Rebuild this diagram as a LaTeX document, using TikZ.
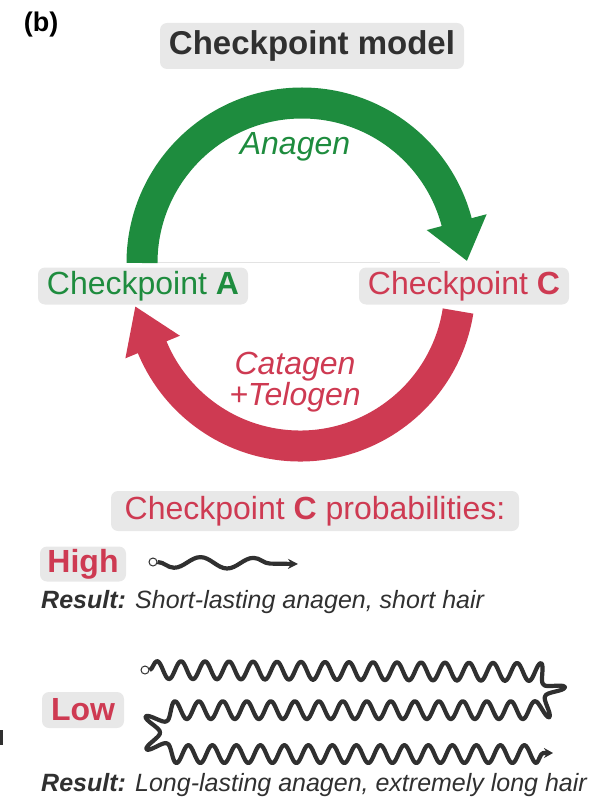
\documentclass[tikz,border=0pt]{standalone}
\usepackage{fontspec}
\setmainfont{Liberation Sans}
\usepackage{tikz}
\usetikzlibrary{calc, arrows.meta, decorations.pathmorphing}
\definecolor{cpgreen}{RGB}{30,140,62}
\definecolor{cpred}{RGB}{206,58,82}
\definecolor{cpgray}{RGB}{232,232,232}
\definecolor{cpdark}{RGB}{48,48,48}
\tikzstyle{tagbox} = [rectangle, rounded corners=7pt, fill=cpgray, inner sep=0pt, text centered]
\tikzstyle{phase} = [inner sep=0pt, font=\itshape\fontsize{32}{29}\selectfont]
\tikzstyle{band} = [line width=31pt]
\tikzstyle{hair} = [line width=4.2pt, draw=cpdark, line join=round, decorate]
\tikzstyle{root} = [circle, draw=cpdark, line width=1pt, fill=white, inner sep=0pt, minimum size=8pt]
\tikzstyle{result} = [anchor=west, inner sep=0pt, text=cpdark, font=\itshape\fontsize{25}{28}\selectfont]
\tikzstyle{every node}=[font=\fontsize{32}{34}\selectfont]

\begin{document}
\begin{tikzpicture}[x=1pt, y=1pt]
		\useasboundingbox (0,0) rectangle (598,-799);
		%标题与检查点
		\node (panel) [inner sep=0pt, font=\bfseries\fontsize{27}{30}\selectfont] at (41,-25) {(b)};
		\node (title) [tagbox, minimum width=304pt, minimum height=46pt, text=cpdark, font=\bfseries\fontsize{33}{35}\selectfont] at (312,-46) {Checkpoint model};
		\node (cpA) [tagbox, minimum width=210pt, minimum height=37pt, text=cpgreen] at (143,-286) {Checkpoint \textbf{A}};
		\node (cpC) [tagbox, minimum width=210pt, minimum height=37pt, text=cpred] at (464,-286) {Checkpoint \textbf{C}};
		\draw [gray!22, line width=0.8pt] (158,-262) -- (440,-262);
		
		%周期箭头
		\coordinate (gc) at (302,-263);
		\coordinate (rc) at (300,-286);
		\draw [band, cpgreen] ($(gc)+(180:160)$) arc [start angle=180, end angle=14.2, radius=160pt];
		\fill [cpgreen] ($(gc)+(14.8:191)$) -- ($(gc)+(14.8:129)$) -- ($(gc)+(14.8:160)+(-75.2:40)$) -- cycle;
		\draw [band, cpred] ($(rc)+(-9:160)$) arc [start angle=-9, end angle=-158, radius=160pt];
		\fill [cpred] ($(rc)+(-157.5:189)$) -- ($(rc)+(-157.5:130)$) -- ($(rc)+(-157.5:160)+(112.5:44)$) -- cycle;
		\node (anagen) [phase, text=cpgreen] at (295,-147) {Anagen};
		\node (catagen) [phase, text=cpred, align=center] at (295,-382) {Catagen\\+Telogen};
		
		%概率
		\node (prob) [tagbox, minimum width=408pt, minimum height=40pt, text=cpred] at (315,-511) {Checkpoint \textbf{C} probabilities:};
		\node (high) [tagbox, minimum width=86pt, minimum height=35pt, text=cpred, font=\bfseries\fontsize{32}{34}\selectfont] at (83,-564) {High};
		\node (low) [tagbox, minimum width=82pt, minimum height=36pt, text=cpred, font=\bfseries\fontsize{32}{34}\selectfont] at (83,-710) {Low};
		\node (resH) [result] at (41,-602) {\textbf{Result:} Short-lasting anagen, short hair};
		\node (resL) [result] at (41,-785) {\textbf{Result:} Long-lasting anagen, extremely long hair};
		
		%毛发
		\node (rootH) [root] at (153,-562) {};
		\coordinate (tipH) at (298,-564);
		\draw [hair, decoration={snake, segment length=53pt, amplitude=5.5pt, mirror, post length=3pt}, -{Stealth[length=10pt, width=10pt]}] (rootH.east) -- (tipH);
		\node (rootL) [root] at (145,-670) {};
		\coordinate (tipL) at (553,-753);
		\draw [hair, decoration={snake, segment length=24pt, amplitude=9pt, post length=3pt}, -{Stealth[length=9pt, width=10pt]}] (rootL.east) -- (532,-672) arc [start angle=90, end angle=-90, radius=19pt] -- (167,-710) arc [start angle=90, end angle=270, radius=21.5pt] -- (tipL);
		\fill [cpdark] (0,-730) rectangle (3,-745);
		
	\end{tikzpicture}
\end{document}
